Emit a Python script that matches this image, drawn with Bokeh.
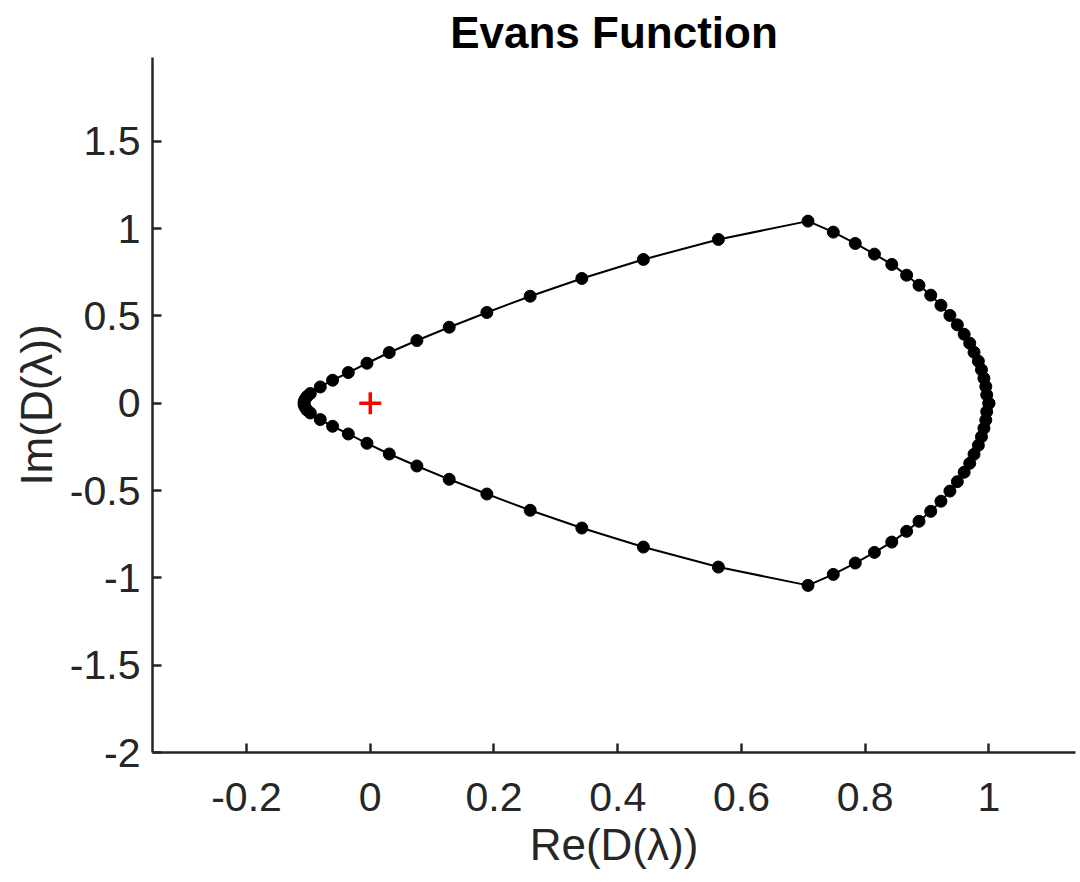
from bokeh.plotting import figure
from bokeh.models import Range1d, FixedTicker, CustomJSTickFormatter
from bokeh.embed import file_html
from bokeh.resources import INLINE

# Evans function contour image, Re(D) and Im(D)
re_d = [1.0, 0.9965, 0.995, 0.992, 0.988, 0.983, 0.976, 0.969, 0.960, 0.949,
        0.937, 0.9225, 0.906, 0.887, 0.867, 0.843, 0.815, 0.784, 0.7485, 0.7076,
        0.5627, 0.4415, 0.342, 0.2585, 0.1885, 0.1276, 0.0754, 0.0307, -0.0053, -0.0355,
        -0.0609, -0.0808, -0.0969, -0.1025, -0.1055, -0.107,
        -0.107, -0.1055, -0.1025, -0.0969, -0.0808, -0.0609,
        -0.0355, -0.0053, 0.0307, 0.0754, 0.1276, 0.1885, 0.2585, 0.342, 0.4415, 0.5627,
        0.7076, 0.7485, 0.784, 0.815, 0.843, 0.867, 0.887, 0.906, 0.9225, 0.937,
        0.949, 0.960, 0.969, 0.976, 0.983, 0.988, 0.992, 0.995, 0.9965, 1.0]
im_d = [0.0, 0.048, 0.096, 0.143, 0.192, 0.241, 0.292, 0.344, 0.395, 0.449,
        0.503, 0.561, 0.619, 0.676, 0.7335, 0.795, 0.854, 0.915, 0.980, 1.043,
        0.938, 0.8235, 0.7146, 0.613, 0.5198, 0.4355, 0.3593, 0.2905, 0.2292, 0.1759,
        0.1318, 0.0934, 0.0556, 0.038, 0.022, 0.008,
        -0.008, -0.022, -0.038, -0.0556, -0.0934, -0.1318,
        -0.1759, -0.2292, -0.2905, -0.3593, -0.4355, -0.5198, -0.613, -0.7146, -0.8235, -0.938,
        -1.043, -0.980, -0.915, -0.854, -0.795, -0.7335, -0.676, -0.619, -0.561, -0.503,
        -0.449, -0.395, -0.344, -0.292, -0.241, -0.192, -0.143, -0.096, -0.048, 0.0]

origin_re = [0.0]
origin_im = [0.0]

x_ticks = [-0.2, 0, 0.2, 0.4, 0.6, 0.8, 1]
y_ticks = [-2, -1.5, -1, -0.5, 0, 0.5, 1, 1.5]

FONT = "Liberation Sans"
AXC = "#262626"

p = figure(width=1080, height=882, output_backend="svg", toolbar_location=None,
           x_range=Range1d(-0.352, 1.14), y_range=Range1d(-2.0, 1.98),
           title="Evans Function",
           x_axis_label="Re(D(λ))", y_axis_label="Im(D(λ))",
           min_border_left=152, min_border_right=5, min_border_top=57, min_border_bottom=130)

p.outline_line_color = None
p.grid.visible = False
p.background_fill_color = "white"
p.border_fill_color = "white"

p.title.text_font = FONT
p.title.text_font_size = "44px"
p.title.text_font_style = "bold"
p.title.text_color = "black"
p.title.align = "center"
p.title.standoff = 2

fmt = CustomJSTickFormatter(code="return Number(tick.toFixed(2)).toString();")
for ax, ticks in ((p.xaxis[0], x_ticks), (p.yaxis[0], y_ticks)):
    ax.ticker = FixedTicker(ticks=ticks)
    ax.formatter = fmt
    ax.axis_line_color = AXC
    ax.axis_line_width = 2.5
    ax.major_tick_line_color = AXC
    ax.major_tick_line_width = 2.5
    ax.major_tick_in = 9
    ax.major_tick_out = 0
    ax.minor_tick_line_color = None
    ax.major_label_text_font = FONT
    ax.major_label_text_font_size = "41px"
    ax.major_label_text_color = AXC
    ax.axis_label_text_font = FONT
    ax.axis_label_text_font_size = "44px"
    ax.axis_label_text_font_style = "normal"
    ax.axis_label_text_color = AXC

p.xaxis.major_label_standoff = 30
p.yaxis.major_label_standoff = 12
p.xaxis.axis_label_standoff = 6
p.yaxis.axis_label_standoff = 6

p.line(re_d, im_d, line_color="black", line_width=2)
p.scatter(re_d, im_d, size=12, fill_color="black", line_color="black")
p.scatter(origin_re, origin_im, marker="cross", size=22, line_color="red", line_width=3.5)

open("out.html", "w").write(file_html(p, INLINE))
